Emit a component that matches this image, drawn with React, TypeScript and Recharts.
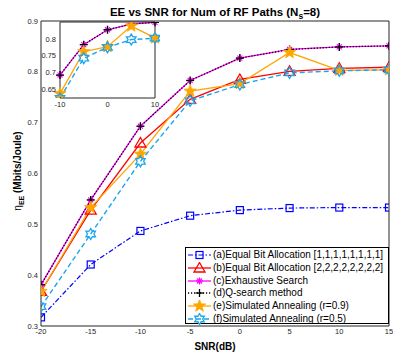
import React from 'react';
import { LineChart, Line, XAxis, YAxis, Legend, CartesianGrid } from 'recharts';

const snr = [-20, -15, -10, -5, 0, 5, 10, 15];
const eqBit1 = [0.317, 0.421, 0.487, 0.517, 0.528, 0.532, 0.533, 0.533];
const eqBit2 = [0.368, 0.528, 0.66, 0.746, 0.785, 0.801, 0.807, 0.809];
const exhaustive = [0.381, 0.548, 0.693, 0.783, 0.827, 0.844, 0.849, 0.851];
const qsearch = [0.381, 0.548, 0.693, 0.783, 0.827, 0.844, 0.849, 0.851];
const sa09 = [0.368, 0.533, 0.638, 0.762, 0.777, 0.838, 0.803, 0.804];
const sa05 = [0.338, 0.481, 0.624, 0.743, 0.775, 0.798, 0.802, 0.804];

const xTicks = [-20, -15, -10, -5, 0, 5, 10, 15];
const yTicks = [0.3, 0.4, 0.5, 0.6, 0.7, 0.8, 0.9];
const insetXTicks = [-10, 0, 10];
const insetYTicks = [0.65, 0.7, 0.75, 0.8];

const legendLabels = [
  '(a)Equal Bit Allocation [1,1,1,1,1,1,1,1]',
  '(b)Equal Bit Allocation [2,2,2,2,2,2,2,2]',
  '(c)Exhaustive Search',
  '(d)Q-search method',
  '(e)Simulated Annealing (r=0.9)',
  '(f)Simulated Annealing (r=0.5)',
];

const data = snr.map((x, i) => ({
  x,
  a: eqBit1[i],
  b: eqBit2[i],
  c: exhaustive[i],
  d: qsearch[i],
  e: sa09[i],
  f: sa05[i],
}));
const insetData = data.filter((r) => r.x >= -10 && r.x <= 10);

type MType = 'square' | 'triangle' | 'asterisk' | 'plus' | 'star' | 'hexagram';

const BLUE = '#0000FF';
const RED = '#FF0000';
const MAGENTA = '#FF00FF';
const BLACK = '#000000';
const ORANGE = '#FFA500';
const CYAN = '#1AA6EC';

const series = [
  { key: 'a', color: BLUE, marker: 'square' as MType, dash: '5 2 1.5 2', width: 1.2 },
  { key: 'b', color: RED, marker: 'triangle' as MType, dash: undefined, width: 1.3 },
  { key: 'c', color: MAGENTA, marker: 'asterisk' as MType, dash: undefined, width: 1.3 },
  { key: 'd', color: BLACK, marker: 'plus' as MType, dash: '1.2 1.8', width: 1.3 },
  { key: 'e', color: ORANGE, marker: 'star' as MType, dash: undefined, width: 1.3 },
  { key: 'f', color: CYAN, marker: 'hexagram' as MType, dash: '5 3', width: 1.4 },
];

function starPoints(cx: number, cy: number, n: number, ro: number, ri: number) {
  const pts: string[] = [];
  for (let i = 0; i < 2 * n; i++) {
    const r = i % 2 === 0 ? ro : ri;
    const a = -Math.PI / 2 + (i * Math.PI) / n;
    pts.push(`${(cx + r * Math.cos(a)).toFixed(2)},${(cy + r * Math.sin(a)).toFixed(2)}`);
  }
  return pts.join(' ');
}

function Marker({ type, cx, cy, color }: { type: MType; cx: number; cy: number; color: string }) {
  if (cx == null || cy == null || isNaN(cx) || isNaN(cy)) return null;
  switch (type) {
    case 'square':
      return <rect x={cx - 3.5} y={cy - 3.5} width={7} height={7} fill="none" stroke={color} strokeWidth={1.2} />;
    case 'triangle':
      return (
        <polygon
          points={`${cx},${cy - 5.5} ${cx + 5.5},${cy + 4} ${cx - 5.5},${cy + 4}`}
          fill="none"
          stroke={color}
          strokeWidth={1.3}
        />
      );
    case 'asterisk': {
      const r = 3.5;
      const d = r * 0.707;
      return (
        <g stroke={color} strokeWidth={1.2}>
          <line x1={cx - r} y1={cy} x2={cx + r} y2={cy} />
          <line x1={cx} y1={cy - r} x2={cx} y2={cy + r} />
          <line x1={cx - d} y1={cy - d} x2={cx + d} y2={cy + d} />
          <line x1={cx - d} y1={cy + d} x2={cx + d} y2={cy - d} />
        </g>
      );
    }
    case 'plus': {
      const r = 4;
      return (
        <g stroke={color} strokeWidth={1.3}>
          <line x1={cx - r} y1={cy} x2={cx + r} y2={cy} />
          <line x1={cx} y1={cy - r} x2={cx} y2={cy + r} />
        </g>
      );
    }
    case 'star':
      return <polygon points={starPoints(cx, cy, 5, 6.5, 2.7)} fill={color} stroke={color} strokeWidth={0.8} />;
    case 'hexagram':
      return <polygon points={starPoints(cx, cy, 6, 5.5, 3.2)} fill="none" stroke={color} strokeWidth={1.3} />;
    default:
      return null;
  }
}

function makeDot(type: MType, color: string) {
  return (p: any) => <Marker key={`m-${p.index}`} type={type} cx={p.cx} cy={p.cy} color={color} />;
}

const FONT = '"Liberation Sans", Arial, Helvetica, sans-serif';
const AXIS = '#262626';
const tickStyle = { fontSize: 7.5, fill: AXIS, fontFamily: FONT };

function LegendBox() {
  return (
    <div
      style={{
        width: 204,
        height: 77,
        border: '1px solid #000',
        boxSizing: 'border-box',
        background: '#fff',
        paddingTop: 1,
        fontFamily: FONT,
        fontSize: 10,
        color: '#000',
      }}
    >
      {series.map((s, i) => (
        <div key={s.key} style={{ height: 12.7, display: 'flex', alignItems: 'center', whiteSpace: 'nowrap' }}>
          <svg width={27} height={12} style={{ flex: 'none' }}>
            <line x1={2} y1={6} x2={25} y2={6} stroke={s.color} strokeWidth={s.width} strokeDasharray={s.dash} />
            <Marker type={s.marker} cx={13.5} cy={6} color={s.color} />
          </svg>
          <span style={{ lineHeight: '12px' }}>{legendLabels[i]}</span>
        </div>
      ))}
    </div>
  );
}

export default function App() {
  return (
    <div style={{ position: 'absolute', left: 0, top: 0, width: 393, height: 358, background: '#fff' }}>
      <LineChart width={393} height={358} data={data} margin={{ top: 21, right: 4, left: 11, bottom: 12 }}>
        <XAxis
          xAxisId="main"
          dataKey="x"
          type="number"
          domain={[-20, 15]}
          ticks={xTicks}
          height={20}
          tickLine={false}
          tickSize={0}
          tickMargin={3}
          tick={tickStyle}
          axisLine={{ stroke: AXIS }}
          allowDataOverflow
        />
        <XAxis
          xAxisId="bt"
          dataKey="x"
          type="number"
          domain={[-20, 15]}
          ticks={xTicks}
          orientation="bottom"
          mirror
          tick={false}
          tickSize={4}
          tickLine={{ stroke: AXIS }}
          axisLine={false}
        />
        <XAxis
          xAxisId="top"
          dataKey="x"
          type="number"
          domain={[-20, 15]}
          ticks={xTicks}
          orientation="top"
          mirror
          tick={false}
          tickSize={4}
          tickLine={{ stroke: AXIS }}
          axisLine={{ stroke: AXIS }}
        />
        <YAxis
          yAxisId="main"
          type="number"
          domain={[0.3, 0.9]}
          ticks={yTicks}
          width={30}
          tickLine={false}
          tickSize={0}
          tickMargin={3}
          tick={tickStyle}
          axisLine={{ stroke: AXIS }}
          allowDataOverflow
        />
        <YAxis
          yAxisId="lt"
          type="number"
          domain={[0.3, 0.9]}
          ticks={yTicks}
          orientation="left"
          mirror
          tick={false}
          tickSize={4}
          tickLine={{ stroke: AXIS }}
          axisLine={false}
        />
        <YAxis
          yAxisId="rt"
          type="number"
          domain={[0.3, 0.9]}
          ticks={yTicks}
          orientation="right"
          mirror
          tick={false}
          tickSize={4}
          tickLine={{ stroke: AXIS }}
          axisLine={{ stroke: AXIS }}
        />
        {series.map((s) => (
          <Line
            key={s.key}
            xAxisId="main"
            yAxisId="main"
            dataKey={s.key}
            stroke={s.color}
            strokeWidth={s.width}
            strokeDasharray={s.dash}
            dot={makeDot(s.marker, s.color)}
            activeDot={false}
            isAnimationActive={false}
            type="linear"
          />
        ))}
        <Legend
          layout="horizontal"
          verticalAlign="middle"
          align="center"
          wrapperStyle={{ position: 'absolute', left: 185, top: 247, width: 204, height: 77 }}
          content={() => <LegendBox />}
        />
      </LineChart>

      <div style={{ position: 'absolute', left: 30, top: 10, width: 130, height: 106 }}>
        <LineChart width={130} height={106} data={insetData} margin={{ top: 12, right: 5, left: 4, bottom: 3 }}>
          <CartesianGrid xAxisId="main" yAxisId="main" horizontal={false} vertical={false} fill="#fff" />
          <XAxis
            xAxisId="main"
            dataKey="x"
            type="number"
            domain={[-10, 10]}
            ticks={insetXTicks}
            height={15}
            tickLine={false}
            tickSize={0}
            tickMargin={4}
            tick={tickStyle}
            axisLine={{ stroke: AXIS }}
          />
          <XAxis
            xAxisId="bt"
            dataKey="x"
            type="number"
            domain={[-10, 10]}
            ticks={insetXTicks}
            orientation="bottom"
            mirror
            tick={false}
            tickSize={3}
            tickLine={{ stroke: AXIS }}
            axisLine={false}
          />
          <XAxis
            xAxisId="top"
            dataKey="x"
            type="number"
            domain={[-10, 10]}
            ticks={insetXTicks}
            orientation="top"
            mirror
            tick={false}
            tickSize={3}
            tickLine={{ stroke: AXIS }}
            axisLine={{ stroke: AXIS }}
          />
          <YAxis
            yAxisId="main"
            type="number"
            domain={[0.625, 0.85]}
            ticks={insetYTicks}
            width={26}
            tickLine={false}
            tickSize={0}
            tickMargin={4}
            tick={tickStyle}
            axisLine={{ stroke: AXIS }}
            allowDataOverflow
          />
          <YAxis
            yAxisId="lt"
            type="number"
            domain={[0.625, 0.85]}
            ticks={insetYTicks}
            orientation="left"
            mirror
            tick={false}
            tickSize={3}
            tickLine={{ stroke: AXIS }}
            axisLine={false}
          />
          <YAxis
            yAxisId="rt"
            type="number"
            domain={[0.625, 0.85]}
            ticks={insetYTicks}
            orientation="right"
            mirror
            tick={false}
            tickSize={3}
            tickLine={{ stroke: AXIS }}
            axisLine={{ stroke: AXIS }}
          />
          {series
            .filter((s) => s.key !== 'a' && s.key !== 'b')
            .map((s) => (
              <Line
                key={s.key}
                xAxisId="main"
                yAxisId="main"
                dataKey={s.key}
                stroke={s.color}
                strokeWidth={s.width}
                strokeDasharray={s.dash}
                dot={makeDot(s.marker, s.color)}
                activeDot={false}
                isAnimationActive={false}
                type="linear"
              />
            ))}
        </LineChart>
      </div>

      <svg
        width={393}
        height={358}
        style={{ position: 'absolute', left: 0, top: 0, pointerEvents: 'none' }}
      >
        <text x={215} y={16} textAnchor="middle" fontFamily={FONT} fontWeight="bold" fontSize={11.5} fill="#000">
          EE vs SNR for Num of RF Paths (N
          <tspan fontSize={8.5} dy={3}>s</tspan>
          <tspan dy={-3}>=8)</tspan>
        </text>
        <text x={215} y={350} textAnchor="middle" fontFamily={FONT} fontWeight="bold" fontSize={10} fill="#000">
          SNR(dB)
        </text>
        <text
          transform="translate(21,171) rotate(-90)"
          textAnchor="middle"
          fontFamily={FONT}
          fontWeight="bold"
          fontSize={10}
          fill="#000"
        >
          <tspan fontWeight="normal">η</tspan>
          <tspan fontSize={7} dy={2.5}>EE</tspan>
          <tspan dy={-2.5}> (Mbits/Joule)</tspan>
        </text>
      </svg>
    </div>
  );
}
